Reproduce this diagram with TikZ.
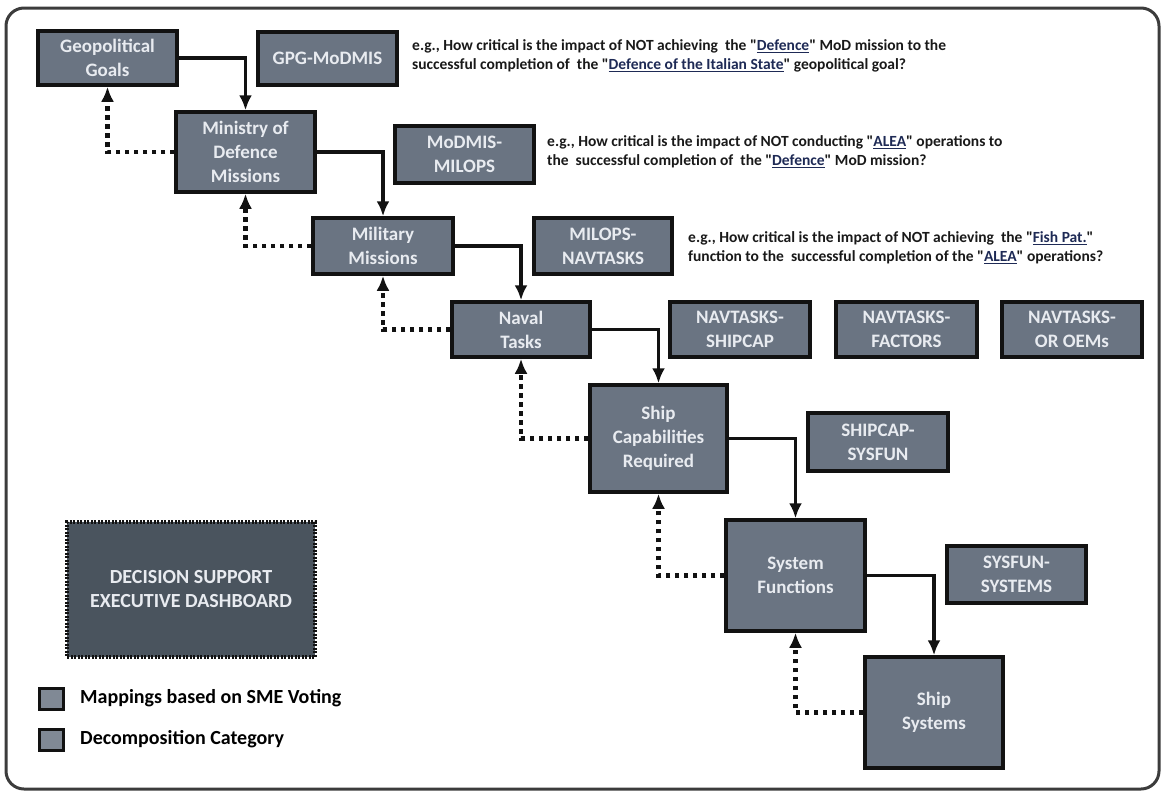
\documentclass[tikz,border=0pt]{standalone}
\usepackage{fontspec}
\setmainfont{Carlito}
\usetikzlibrary{arrows.meta}

\definecolor{boxfill}{RGB}{106,116,130}
\definecolor{dashfill}{RGB}{74,84,94}
\definecolor{boxtext}{RGB}{232,235,240}
\definecolor{boxline}{RGB}{18,18,18}
\definecolor{frameline}{RGB}{60,60,60}
\definecolor{notetext}{RGB}{25,25,25}
\definecolor{refblue}{RGB}{30,42,85}

\newcommand{\boxfont}{\fontsize{19}{24}\selectfont\bfseries}
\newcommand{\notefont}{\fontsize{15.5}{19}\selectfont\bfseries}
\newcommand{\legfont}{\fontsize{20}{24}\selectfont\bfseries}
\newcommand{\refword}[1]{\textquotedbl\textcolor{refblue}{\underline{#1}}\textquotedbl}

\tikzset{
  catbox/.style={draw=boxline, line width=3.5pt, fill=boxfill, text=boxtext,
    font=\boxfont, align=center, inner sep=2pt},
  mapbox/.style={catbox},
  dashbox/.style={catbox, fill=dashfill, font=\fontsize{20}{24}\selectfont\bfseries,
    dash pattern=on 2pt off 1.5pt},
  swatch/.style={draw=boxline, line width=3pt, fill=boxfill!85!white,
    minimum width=24pt, minimum height=21pt, inner sep=0pt},
  flow/.style={draw=boxline, line width=3.5pt, -{Latex[length=15pt,width=13pt]}},
  back/.style={draw=boxline, line width=4.5pt, dash pattern=on 4.5pt off 4.5pt,
    -{Latex[length=15pt,width=13pt]}},
  note/.style={anchor=west, align=left, font=\notefont, text=notetext, inner sep=0pt},
  legend/.style={anchor=west, font=\legfont, text=black, inner sep=0pt}
}

\begin{document}
\begin{tikzpicture}[x=1pt,y=-1pt]
  \useasboundingbox (0,0) rectangle (1164,796);
  % outer frame
  \draw[frameline, line width=3pt, rounded corners=18pt] (6,8) rectangle (1159,789);

  % decomposition chain
  \node[catbox, minimum width=139pt, minimum height=54pt]  (gg)  at (107.5,58)  {Geopolitical\\Goals};
  \node[catbox, minimum width=139pt, minimum height=80pt]  (mod) at (245.5,152) {Ministry of\\Defence\\Missions};
  \node[catbox, minimum width=140pt, minimum height=56pt]  (mm)  at (383,246)   {Military\\Missions};
  \node[catbox, minimum width=138pt, minimum height=55pt]  (nt)  at (521,329.5) {Naval\\Tasks};
  \node[catbox, minimum width=137pt, minimum height=107pt] (scr) at (658.5,438.5) {Ship\\Capabilities\\Required};
  \node[catbox, minimum width=139pt, minimum height=111pt] (sf)  at (795.5,575.5) {System\\Functions};
  \node[catbox, minimum width=138pt, minimum height=111pt] (ss)  at (934,712.5) {Ship\\Systems};

  % mappings
  \node[mapbox, minimum width=139pt, minimum height=53pt] (gpg)    at (327.5,58.5)  {GPG-MoDMIS};
  \node[mapbox, minimum width=139pt, minimum height=57pt] (modmis) at (464.5,154.5) {MoDMIS-\\MILOPS};
  \node[mapbox, minimum width=138pt, minimum height=56pt] (milops) at (603,246)     {MILOPS-\\NAVTASKS};
  \node[mapbox, minimum width=140pt, minimum height=55pt] (ntsc)   at (740,329.5)   {NAVTASKS-\\SHIPCAP};
  \node[mapbox, minimum width=141pt, minimum height=55pt] (ntf)    at (906.5,329.5) {NAVTASKS-\\FACTORS};
  \node[mapbox, minimum width=140pt, minimum height=55pt] (nto)    at (1072,329.5)  {NAVTASKS-\\OR OEMs};
  \node[mapbox, minimum width=140pt, minimum height=58pt] (scsf)   at (878,442)     {SHIPCAP-\\SYSFUN};
  \node[mapbox, minimum width=139pt, minimum height=57pt] (sfs)    at (1016.5,574.5) {SYSFUN-\\SYSTEMS};

  % arrows down and back up
  \foreach \a/\b in {gg/mod, mod/mm, mm/nt, nt/scr, scr/sf, sf/ss}
    \draw[flow] (\a.east) -| (\b.north);
  \foreach \a/\b in {mod/gg, mm/mod, nt/mm, scr/nt, sf/scr, ss/sf}
    \draw[back] (\a.west) -| (\b.south);

  % example questions
  \node[note] (q1) at (412,56) {e.g., How critical is the impact of NOT achieving\ \ the \refword{Defence} MoD mission to the\\successful completion of\ \ the \refword{Defence of the Italian State} geopolitical goal?};
  \node[note] (q2) at (547,152) {e.g., How critical is the impact of NOT conducting \refword{ALEA} operations to\\the\ \ successful completion of\ \ the \refword{Defence} MoD mission?};
  \node[note] (q3) at (688,248) {e.g., How critical is the impact of NOT achieving\ \ the \refword{Fish Pat.}\\function to the\ \ successful completion of the \refword{ALEA} operations?};

  % dashboard and legend
  \node[dashbox, minimum width=248pt, minimum height=135pt] (dash) at (191,589.5) {DECISION SUPPORT\\EXECUTIVE DASHBOARD};
  \node[swatch] (sw1) at (51,698.5) {};
  \node[swatch] (sw2) at (51,739.5) {};
  \node[legend] (lg1) at (80,698.5) {Mappings based on SME Voting};
  \node[legend] (lg2) at (80,739.5) {Decomposition Category};
\end{tikzpicture}
\end{document}
